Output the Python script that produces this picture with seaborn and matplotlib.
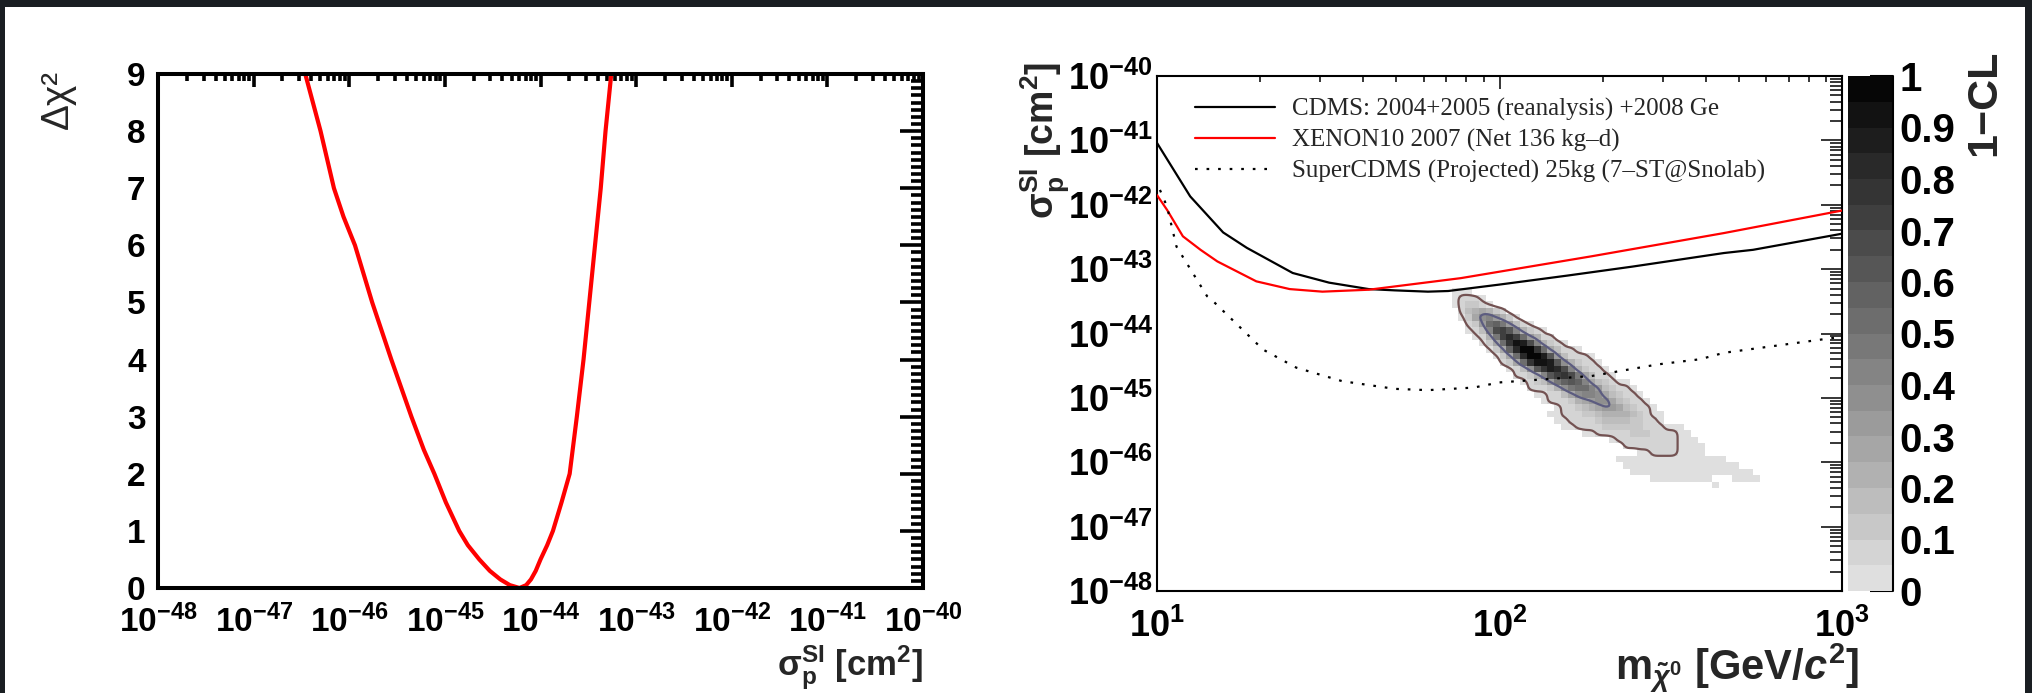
import numpy as np
import pandas as pd
import matplotlib
matplotlib.use("Agg")
import matplotlib.pyplot as plt
from matplotlib.colors import ListedColormap, BoundaryNorm
from matplotlib.patches import Rectangle
from matplotlib.ticker import FixedLocator, LogLocator, MultipleLocator, NullFormatter, FuncFormatter
import seaborn as sns

# ---- left panel: delta chi^2 profile of the SI cross section (exponent of sigma in cm^2)
scan_sigma_exp = [-46.46, -46.38, -46.30, -46.23, -46.16, -46.06, -45.94, -45.85, -45.76,
                  -45.56, -45.35, -45.22, -45.11, -44.99, -44.85, -44.76, -44.64, -44.53,
                  -44.42, -44.32, -44.22, -44.15, -44.10, -44.05, -44.00, -43.93, -43.87,
                  -43.78, -43.695, -43.62, -43.55, -43.49, -43.43, -43.37, -43.32, -43.26]
scan_dchi2 = [9.0, 8.5, 8.0, 7.5, 7.0, 6.5, 6.0, 5.5, 5.0,
              4.0, 3.0, 2.42, 2.0, 1.5, 1.0, 0.75, 0.5, 0.3,
              0.15, 0.05, 0.0, 0.05, 0.15, 0.3, 0.5, 0.75, 1.0,
              1.5, 2.0, 3.0, 4.0, 5.0, 6.0, 7.0, 8.0, 9.0]

# ---- right panel: exclusion limits (mass in GeV, exponent of sigma in cm^2)
cdms_mass = [10, 12.5, 15.6, 18.3, 24.9, 31.8, 41.5, 49.5, 61.8, 70.8, 100, 158, 245, 452, 550, 1000]
cdms_sigma_exp = [-41.04, -41.87, -42.43, -42.67, -43.06, -43.21, -43.31, -43.33, -43.35, -43.34,
                  -43.24, -43.10, -42.96, -42.75, -42.70, -42.45]
xenon_mass = [10, 10.7, 11.9, 13.4, 15.0, 19.5, 24.4, 30.4, 41.5, 77.1, 186, 452, 1000]
xenon_sigma_exp = [-41.85, -42.08, -42.49, -42.70, -42.88, -43.19, -43.31, -43.35, -43.32, -43.14,
                   -42.80, -42.44, -42.09]
supercdms_mass = [10.2, 10.7, 11.1, 11.4, 14.0, 14.4, 20.4, 25.5, 34.7, 49.5, 61.8, 84.1, 100,
                  186, 290, 385, 452, 1000]
supercdms_sigma_exp = [-41.77, -42.03, -42.39, -42.65, -43.42, -43.47, -44.25, -44.53, -44.74,
                       -44.86, -44.88, -44.84, -44.76, -44.66, -44.48, -44.40, -44.30, -44.05]

legend_labels = ["CDMS: 2004+2005 (reanalysis) +2008 Ge",
                 "XENON10 2007 (Net 136 kg\u2013d)",
                 "SuperCDMS (Projected) 25kg (7\u2013ST@Snolab)"]

# ---- 1-CL map: mass bins of 0.02 decade from 10 GeV, sigma bins of 0.1 decade down from 1e-40.
# One string per sigma row starting at row cl_first_row, column cl_first_col;
# '.' = empty, '0'..'9','a'..'j' = band index of 1-CL in steps of 0.05.
cl_first_row = 33
cl_first_col = 43
cl_bands = [
    "000",
    "01110",
    "012210",
    ".1345421",
    ".025786420",
    "..126ab96310",
    "..0138dec84210",
    "...0149egea6411",
    "....025afihd84210",
    ".....025bgjjfa53110",
    "......025agjjhc631110",
    ".......125afiihc742110",
    "........0137cfhgd842110",
    ".........11248cefd953110",
    "..........012369bcb8532100",
    "...........1112479aa8632110",
    "............0011357887532110",
    ".............0111245677532110",
    "...............011234566532110",
    "..............00111223444432100",
    "...............0011112333322110",
    "................001111222222111000",
    "...................0011111222111100",
    ".......................0111111111000",
    ".........................111111110000",
    "...........................0011110000",
    "........................0000000000000000",
    ".........................00000000000000000",
    "..........................000000000000000000",
    ".............................000000000...0000",
    "......................................0",
]

BAND_CHARS = "0123456789abcdefghij"

sns.set_style("white")
plt.rcParams["font.family"] = ["Liberation Sans", "DejaVu Sans"]
plt.rcParams["font.weight"] = "bold"
plt.rcParams["mathtext.fontset"] = "custom"
plt.rcParams["mathtext.rm"] = "Liberation Sans:bold"
plt.rcParams["mathtext.bf"] = "Liberation Sans:bold"
plt.rcParams["mathtext.it"] = "Liberation Sans:bold:italic"
plt.rcParams["mathtext.sf"] = "Liberation Sans:bold"

W, H = 2032, 693
fig = plt.figure(figsize=(W / 100, H / 100), dpi=100)
fig.patch.set_facecolor("#1a1e22")
fig.add_artist(Rectangle((5 / W, 0), (2025 - 5) / W, (H - 7) / H, transform=fig.transFigure,
                         facecolor="white", edgecolor="none", zorder=-1))


def box(x0, y0, x1, y1):
    return [x0 / W, (H - y1) / H, (x1 - x0) / W, (y1 - y0) / H]


pow_fmt = FuncFormatter(lambda v, p: r"$10^{%d}$" % int(round(np.log10(v))))
sigma_label = r"$\mathrm{\sigma}_{\mathrm{p}}^{\mathrm{SI}}$ [cm$^{2}$]"

# ================= left panel =================
axL = fig.add_axes(box(158, 74, 923, 588))
scan = pd.DataFrame({"sigma": 10.0 ** np.array(scan_sigma_exp), "dchi2": scan_dchi2})
sns.lineplot(data=scan, x="sigma", y="dchi2", sort=False, estimator=None,
             color="#ff0000", lw=3.0, ax=axL)
axL.set_xscale("log")
axL.set_xlim(1e-48, 1e-40)
axL.set_ylim(0, 9)
axL.set_xlabel("")
axL.set_ylabel("")
axL.xaxis.set_major_locator(FixedLocator(10.0 ** np.arange(-48, -39)))
axL.xaxis.set_minor_locator(LogLocator(base=10, subs=np.arange(2, 10), numticks=200))
axL.xaxis.set_major_formatter(pow_fmt)
axL.xaxis.set_minor_formatter(NullFormatter())
axL.yaxis.set_major_locator(MultipleLocator(1))
axL.yaxis.set_minor_locator(MultipleLocator(0.125))
axL.tick_params(which="both", direction="in", top=True, right=True, width=2.6, colors="black")
axL.tick_params(axis="y", which="major", length=16.5, labelsize=24, pad=9)
axL.tick_params(axis="y", which="minor", length=8.6)
axL.tick_params(axis="x", which="major", length=9.4, labelsize=24, pad=12)
axL.tick_params(axis="x", which="minor", length=5)
for s in axL.spines.values():
    s.set_linewidth(2.9)
    s.set_color("black")

fig.text(58 / W, 1 - 70 / H, "\u0394\u03c7\u00b2", rotation=90, ha="center", va="top",
         fontsize=28, fontweight="normal")
fig.text(923 / W, 1 - 668 / H, sigma_label, ha="right", va="center", fontsize=25)

# ================= right panel =================
axR = fig.add_axes(box(1157, 76, 1842, 591))
cax = fig.add_axes(box(1848, 76, 1893, 591))

n_rows, n_cols = 80, 100
cl = np.full((n_rows, n_cols), np.nan)
for i, row in enumerate(cl_bands):
    for j, ch in enumerate(row):
        if ch != ".":
            cl[cl_first_row + i, cl_first_col + j] = (BAND_CHARS.index(ch) + 0.5) / 20.0

mass_edges = 10.0 ** (1 + 0.02 * np.arange(n_cols + 1))
sigma_edges = 10.0 ** (-40 - 0.1 * np.arange(n_rows + 1))

grays = np.linspace(0.875, 0.025, 20)
cmap = ListedColormap([(g, g, g) for g in grays])
levels = np.linspace(0, 1, 21)
norm = BoundaryNorm(levels, cmap.N)
mesh = axR.pcolormesh(mass_edges, sigma_edges, cl, cmap=cmap, norm=norm, zorder=1)

# contours are traced on a finer, lightly smoothed copy of the map
f = 4
row_pos = np.arange(n_rows) + 0.5
col_pos = np.arange(n_cols) + 0.5
row_fine = np.linspace(row_pos[0], row_pos[-1], (n_rows - 1) * f + 1)
col_fine = np.linspace(col_pos[0], col_pos[-1], (n_cols - 1) * f + 1)
base = np.nan_to_num(cl, nan=0.0)
tmp = np.array([np.interp(col_fine, col_pos, r) for r in base])
fine = np.array([np.interp(row_fine, row_pos, c) for c in tmp.T]).T
kern = np.array([1, 4, 6, 4, 1], float) / 16
for _ in range(2):
    fine = np.apply_along_axis(lambda v: np.convolve(v, kern, mode="same"), 1, fine)
    fine = np.apply_along_axis(lambda v: np.convolve(v, kern, mode="same"), 0, fine)
mass_fine = 10.0 ** (1 + 0.02 * col_fine)
sigma_fine = 10.0 ** (-40 - 0.1 * row_fine)
axR.contour(mass_fine, sigma_fine, fine, levels=[0.05], colors=["#735252"], linewidths=1.6, zorder=2)
axR.contour(mass_fine, sigma_fine, fine, levels=[0.32], colors=["#5c5c80"], linewidths=1.6, zorder=2)

limits = [(cdms_mass, cdms_sigma_exp, "black", "-"),
          (xenon_mass, xenon_sigma_exp, "#ff0000", "-"),
          (supercdms_mass, supercdms_sigma_exp, "black", (0, (1.2, 4.0)))]
for (m, s, c, ls), lab in zip(limits, legend_labels):
    df = pd.DataFrame({"mass": m, "sigma": 10.0 ** np.array(s)})
    sns.lineplot(data=df, x="mass", y="sigma", sort=False, estimator=None, color=c,
                 linestyle=ls, lw=1.6, ax=axR, label=lab, zorder=3)

axR.set_xscale("log")
axR.set_yscale("log")
axR.set_xlim(10, 1000)
axR.set_ylim(1e-48, 1e-40)
axR.set_xlabel("")
axR.set_ylabel("")
axR.xaxis.set_major_locator(FixedLocator([10, 100, 1000]))
axR.xaxis.set_minor_locator(LogLocator(base=10, subs=np.arange(2, 10), numticks=50))
axR.xaxis.set_major_formatter(pow_fmt)
axR.xaxis.set_minor_formatter(NullFormatter())
axR.yaxis.set_major_locator(FixedLocator(10.0 ** np.arange(-48, -39)))
axR.yaxis.set_minor_locator(LogLocator(base=10, subs=np.arange(2, 10), numticks=200))
axR.yaxis.set_major_formatter(pow_fmt)
axR.yaxis.set_minor_formatter(NullFormatter())
axR.tick_params(which="both", direction="in", top=True, right=True, width=1.1, colors="black")
axR.tick_params(axis="y", which="major", length=15, labelsize=26, pad=3)
axR.tick_params(axis="y", which="minor", length=8.6)
axR.tick_params(axis="x", which="major", length=9.4, labelsize=26, pad=13)
axR.tick_params(axis="x", which="minor", length=4.3)
for s in axR.spines.values():
    s.set_linewidth(1.5)
    s.set_color("black")

leg = axR.legend(loc="upper left", bbox_to_anchor=(0.0555, 0.957), frameon=False,
                 prop={"family": "Liberation Serif", "size": 18, "weight": "normal"},
                 handlelength=3.2, handletextpad=0.68, labelspacing=0.32,
                 borderpad=0, borderaxespad=0)

fig.text(1045 / W, 1 - 62 / H, sigma_label, rotation=90, ha="center", va="top", fontsize=27)
fig.text(1859 / W, 1 - 668 / H, r"$\mathrm{m}_{\tilde{\chi}^{0}}$ [GeV/$c^{2}$]",
         ha="right", va="center", fontsize=30)

# colour scale
cbar = fig.colorbar(mesh, cax=cax, ticks=np.round(np.arange(0, 1.01, 0.1), 1))
cbar.set_ticklabels(["0", "0.1", "0.2", "0.3", "0.4", "0.5", "0.6", "0.7", "0.8", "0.9", "1"])
cbar.outline.set_visible(False)
cax.minorticks_off()
cax.tick_params(direction="in", length=16.5, width=1.5, labelsize=29, pad=4.5, colors="black")
cax.plot([1, 1], [0, 1], transform=cax.transAxes, color="black", lw=1.5, clip_on=False)
fig.text(1984 / W, 1 - 50 / H, "1\u2212CL", rotation=90, ha="center", va="top", fontsize=31)

fig.savefig("out.png", dpi=100, facecolor=fig.get_facecolor())
